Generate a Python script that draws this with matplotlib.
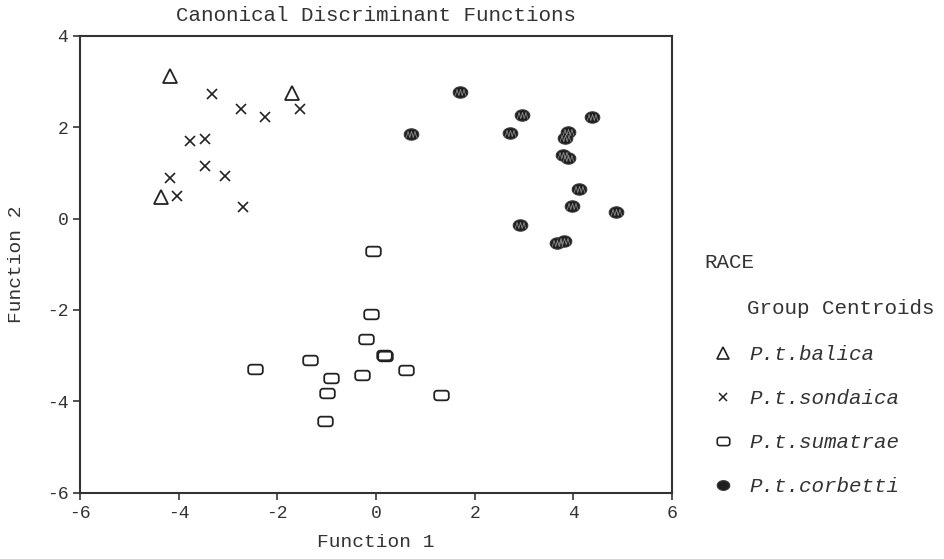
# canonical discriminant functions - tiger races
import numpy as np
import matplotlib
matplotlib.use("Agg")
import matplotlib.pyplot as plt
from matplotlib.path import Path
from matplotlib.lines import Line2D

plt.rcParams['font.family'] = ['Liberation Mono', 'DejaVu Sans Mono']
plt.rcParams['axes.unicode_minus'] = False

# datos
balica_x = [-4.17, -1.71, -4.35]
balica_y = [3.12, 2.74, 0.47]

sondaica_x = [-3.33, -2.74, -1.54, -2.25, -3.78, -3.46, -3.46, -4.18, -3.06, -4.04, -2.70]
sondaica_y = [2.73, 2.40, 2.40, 2.23, 1.70, 1.74, 1.14, 0.89, 0.92, 0.50, 0.25]

sumatrae_x = [-2.46, -1.34, -0.91, -1.00, -1.03, -0.06, -0.10, -0.20, 0.17, 0.19, 0.61, -0.28, 1.32]
sumatrae_y = [-3.30, -3.09, -3.48, -3.82, -4.43, -0.71, -2.08, -2.64, -2.98, -3.00, -3.32, -3.43, -3.86]

corbetti_x = [1.70, 0.70, 2.95, 4.38, 2.72, 3.89, 3.84, 3.79, 3.89, 4.11, 3.98, 4.87, 2.91, 3.67, 3.81]
corbetti_y = [2.76, 1.84, 2.27, 2.23, 1.88, 1.90, 1.76, 1.38, 1.32, 0.65, 0.28, 0.14, -0.14, -0.53, -0.50]

labels = ['P.t.balica', 'P.t.sondaica', 'P.t.sumatrae', 'P.t.corbetti']


# marcadores a medida
def rounded_rect(w=1.0, h=0.66, r=0.4, n=10):
    pts = []
    corners = [(w - r, h - r, 0), (-w + r, h - r, 90), (-w + r, -h + r, 180), (w - r, -h + r, 270)]
    for cx, cy, a0 in corners:
        t = np.radians(np.linspace(a0, a0 + 90, n))
        pts += list(zip(cx + r * np.cos(t), cy + r * np.sin(t)))
    pts.append(pts[0])
    return Path(pts, closed=True)


def ellipse(w=1.0, h=0.78, n=40):
    t = np.linspace(0, 2 * np.pi, n)
    return Path(list(zip(w * np.cos(t), h * np.sin(t))), closed=True)


def zigzag():
    xs = [-1.0, -0.66, -0.33, 0.0, 0.33, 0.66, 1.0]
    ys = [-0.6, 0.6, -0.6, 0.6, -0.6, 0.6, -0.6]
    return Path(list(zip(xs, ys)))


rr = rounded_rect()
el = ellipse()
zz = zigzag()

fig = plt.figure(figsize=(9.45, 5.59), dpi=100)
ax = fig.add_axes([0.0847, 0.1186, 0.6264, 0.8175])

ink = '#222222'
ax.plot(balica_x, balica_y, ls='none', marker='^', ms=10, mfc='none', mec=ink, mew=1.3)
ax.plot(sondaica_x, sondaica_y, ls='none', marker='x', ms=7, mec=ink, mew=1.2)
ax.plot(sumatrae_x, sumatrae_y, ls='none', marker=rr, ms=10.5, mfc='none', mec=ink, mew=1.3)
ax.plot(corbetti_x, corbetti_y, ls='none', marker=el, ms=10.5, mfc='#1e1e1e', mec='#3a3a3a', mew=0.8)
ax.plot(corbetti_x, corbetti_y, ls='none', marker=zz, ms=7.5, mfc='none', mec='#8a8a8a', mew=0.6)

ax.set_xlim(-6, 6)
ax.set_ylim(-6, 4)
ax.set_xticks([-6, -4, -2, 0, 2, 4, 6])
ax.set_yticks([-6, -4, -2, 0, 2, 4])
ax.tick_params(direction='out', length=5, width=1.2, color='#333333', labelsize=13, labelcolor='#333333')
for s in ax.spines.values():
    s.set_color('#333333')
    s.set_linewidth(1.5)

ax.text(0.5, 1.045, 'Canonical Discriminant Functions', transform=ax.transAxes,
        ha='center', va='center', fontsize=15, color='#333333')
ax.set_xlabel('Function 1', fontsize=14, color='#333333')
ax.set_ylabel('Function 2', fontsize=14, color='#333333')
ax.xaxis.set_label_coords(0.5, -0.108)
ax.xaxis.label.set_va('center')
ax.yaxis.set_label_coords(-0.108, 0.5)
ax.yaxis.label.set_va('center')

# leyenda
fig.text(704 / 945, 1 - 263 / 559, 'RACE', fontsize=15, color='#333333', va='center')
fig.text(747 / 945, 1 - 309 / 559, 'Group Centroids', fontsize=15, color='#333333', va='center')
handles = [
    Line2D([], [], ls='none', marker='^', ms=8, mfc='none', mec=ink, mew=1.2),
    Line2D([], [], ls='none', marker='x', ms=6, mec=ink, mew=1.1),
    Line2D([], [], ls='none', marker=rr, ms=9, mfc='none', mec=ink, mew=1.2),
    Line2D([], [], ls='none', marker=el, ms=9, mfc='#1e1e1e', mec='#3a3a3a', mew=0.8),
]
fig.legend(handles, labels, loc='upper left', bbox_to_anchor=(712.6 / 945, 1 - 345 / 559),
           frameon=False, prop={'family': ['Liberation Mono'], 'style': 'italic', 'size': 15},
           labelcolor='#333333', labelspacing=1.2, handlelength=1.0, handletextpad=0.75,
           borderpad=0, borderaxespad=0)

plt.savefig('out.png', dpi=100)
